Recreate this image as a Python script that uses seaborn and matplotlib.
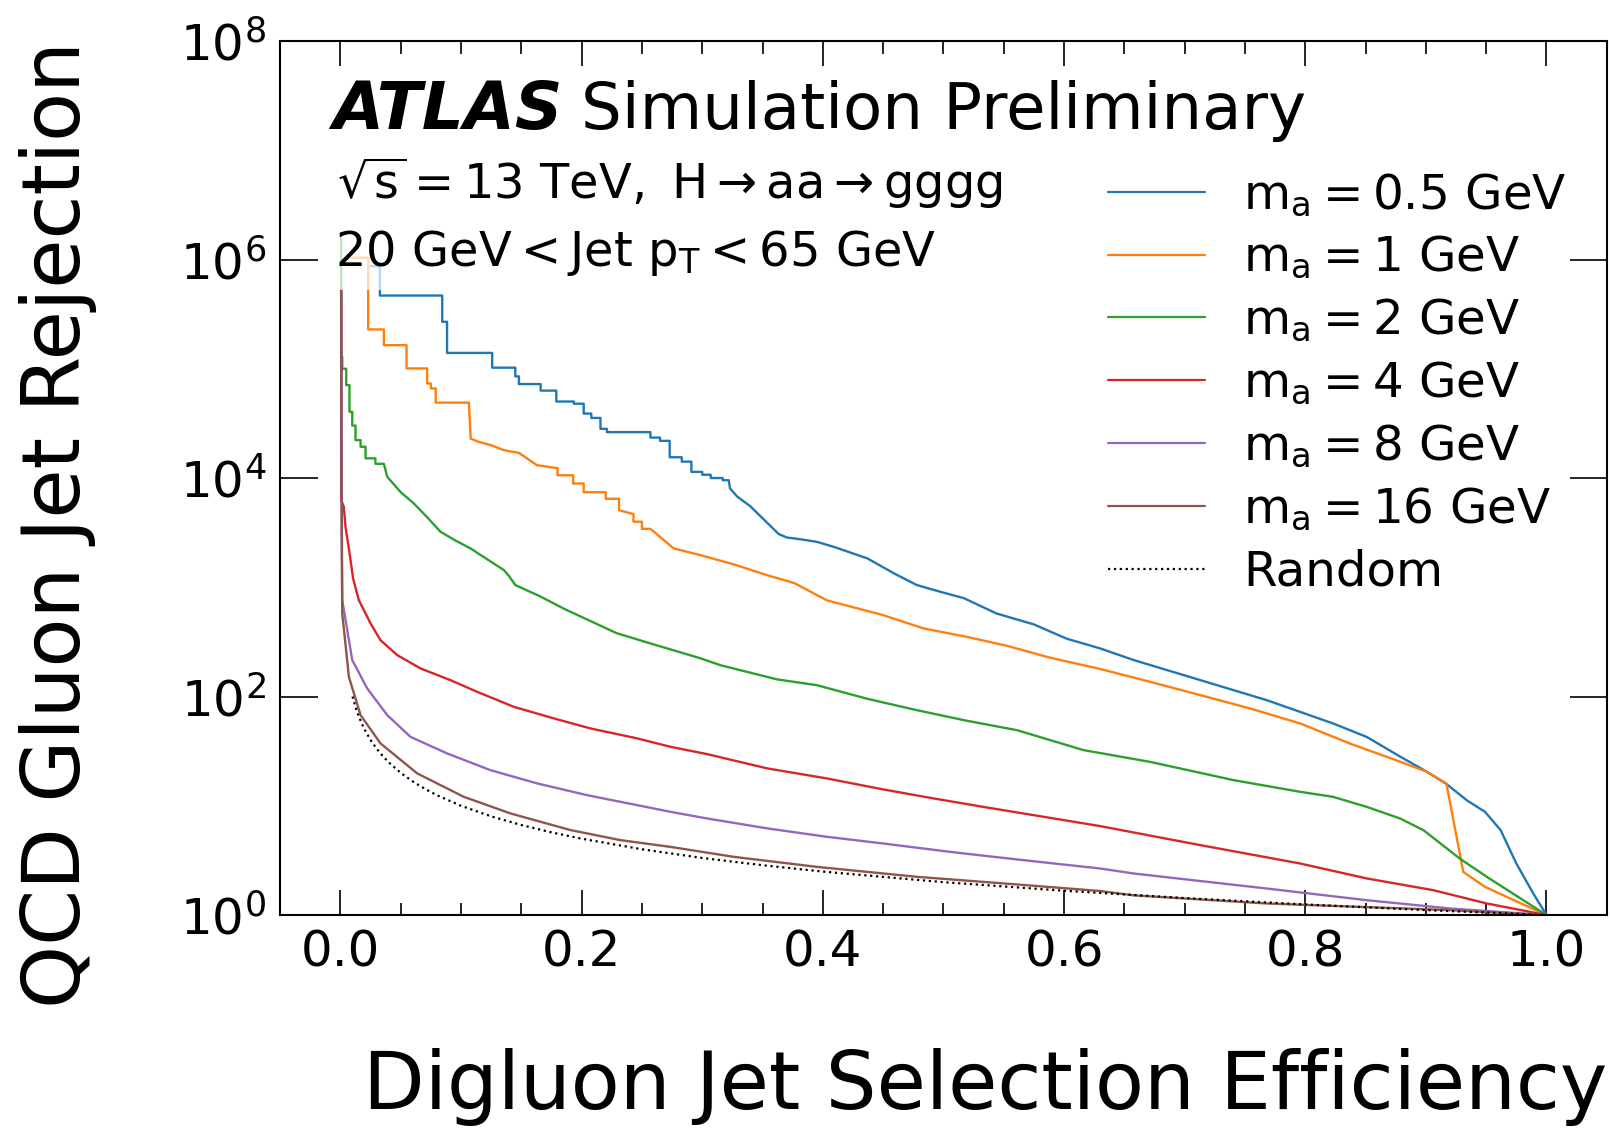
import matplotlib
matplotlib.use("Agg")
import matplotlib.pyplot as plt
import seaborn as sns
import numpy as np
import pandas as pd

# ---------------- data ----------------
# efficiency values and log10(rejection) values per signal mass
eff_05 = [0.025, 0.0327, 0.0327, 0.0844, 0.0844, 0.0884, 0.0884, 0.1258, 0.1258, 0.145, 0.145, 0.148,
          0.148, 0.166, 0.166, 0.179, 0.179, 0.1935, 0.1935, 0.2017, 0.2017, 0.208, 0.208, 0.2156,
          0.2156, 0.221, 0.221, 0.257, 0.257, 0.265, 0.265, 0.273, 0.273, 0.283, 0.283, 0.291, 0.291,
          0.300, 0.300, 0.307, 0.307, 0.317, 0.317, 0.322, 0.323, 0.329, 0.340, 0.3634, 0.370, 0.381,
          0.395, 0.409, 0.437, 0.459, 0.478, 0.497, 0.517, 0.544, 0.575, 0.602, 0.630, 0.658, 0.713,
          0.768, 0.823, 0.851, 0.879, 0.901, 0.917, 0.934, 0.949, 0.962, 0.975, 0.989, 1.0]
lrej_05 = [5.94, 5.94, 5.67, 5.67, 5.43, 5.43, 5.145, 5.145, 5.01, 5.01, 4.93, 4.93,
           4.86, 4.86, 4.80, 4.80, 4.70, 4.70, 4.68, 4.68, 4.59, 4.59, 4.55, 4.55,
           4.45, 4.45, 4.42, 4.42, 4.37, 4.37, 4.34, 4.34, 4.19, 4.19, 4.15, 4.15, 4.056,
           4.056, 4.03, 4.03, 4.00, 4.00, 3.98, 3.98, 3.905, 3.83, 3.74, 3.487, 3.456, 3.44,
           3.416, 3.37, 3.264, 3.127, 3.02, 2.96, 2.90, 2.76, 2.66, 2.53, 2.44, 2.333, 2.15,
           1.967, 1.754, 1.63, 1.448, 1.31, 1.20, 1.05, 0.945, 0.777, 0.472, 0.198, 0.0]

eff_1 = [0.0092, 0.023, 0.023, 0.036, 0.036, 0.0548, 0.0548, 0.0719, 0.0719, 0.075, 0.075, 0.079,
         0.079, 0.1065, 0.108, 0.115, 0.125, 0.1355, 0.148, 0.163, 0.180, 0.180, 0.193, 0.193,
         0.2017, 0.2017, 0.220, 0.220, 0.231, 0.231, 0.243, 0.243, 0.250, 0.250, 0.257, 0.2763,
         0.2985, 0.326, 0.354, 0.376, 0.4035, 0.450, 0.4836, 0.5195, 0.5527, 0.5886, 0.630, 0.6713,
         0.713, 0.7545, 0.7957, 0.837, 0.879, 0.901, 0.917, 0.931, 0.949, 0.973, 1.0]
lrej_1 = [6.016, 6.016, 5.36, 5.36, 5.216, 5.216, 5.003, 5.003, 4.865, 4.865, 4.82, 4.82,
          4.69, 4.69, 4.36, 4.33, 4.30, 4.255, 4.23, 4.117, 4.09, 4.025, 4.025, 3.95,
          3.95, 3.87, 3.87, 3.81, 3.81, 3.705, 3.67, 3.60, 3.60, 3.535, 3.535, 3.356,
          3.294, 3.21, 3.11, 3.04, 2.88, 2.745, 2.623, 2.546, 2.464, 2.355, 2.252, 2.135,
          2.013, 1.89, 1.754, 1.57, 1.402, 1.31, 1.205, 0.395, 0.258, 0.136, 0.0]

eff_2 = [0.0006, 0.0006, 0.0015, 0.0015, 0.0048, 0.0048, 0.0075, 0.0075, 0.0098, 0.0098, 0.0125,
         0.0125, 0.0167, 0.0167, 0.0208, 0.0208, 0.029, 0.029, 0.036, 0.0388, 0.050, 0.0609, 0.072,
         0.083, 0.095, 0.1078, 0.1355, 0.140, 0.145, 0.165, 0.186, 0.229, 0.257, 0.2985, 0.315,
         0.362, 0.395, 0.4366, 0.478, 0.5195, 0.561, 0.616, 0.6713, 0.7405, 0.7957, 0.823, 0.851,
         0.8786, 0.898, 0.928, 0.9505, 1.0]
lrej_2 = [6.24, 5.11, 5.11, 5.0, 5.0, 4.85, 4.85, 4.606, 4.606, 4.48, 4.48,
          4.347, 4.347, 4.286, 4.286, 4.18, 4.18, 4.13, 4.13, 4.011, 3.87, 3.767, 3.64,
          3.508, 3.43, 3.356, 3.157, 3.10, 3.02, 2.92, 2.80, 2.58, 2.486, 2.35, 2.287,
          2.157, 2.104, 1.98, 1.875, 1.778, 1.692, 1.51, 1.402, 1.235, 1.128, 1.082, 0.99,
          0.884, 0.777, 0.518, 0.35, 0.0]

eff_4 = [0.0006, 0.0006, 0.0028, 0.0042, 0.007, 0.0105, 0.01525, 0.025, 0.0332, 0.0471, 0.0664,
         0.0912, 0.1134, 0.1437, 0.1769, 0.2073, 0.246, 0.2736, 0.304, 0.354, 0.4035, 0.450, 0.492,
         0.533, 0.575, 0.630, 0.713, 0.7957, 0.851, 0.906, 0.9505, 1.0]
lrej_4 = [5.74, 3.80, 3.736, 3.553, 3.355, 3.08, 2.882, 2.669, 2.516, 2.379, 2.257,
          2.150, 2.043, 1.906, 1.80, 1.708, 1.617, 1.540, 1.473, 1.342, 1.25, 1.15, 1.067,
          0.99, 0.914, 0.814, 0.64, 0.472, 0.335, 0.228, 0.106, 0.0]

eff_8 = [0.0006, 0.0012, 0.0015, 0.0098, 0.0222, 0.0388, 0.0581, 0.0885, 0.1244, 0.1631, 0.2046,
         0.246, 0.2736, 0.304, 0.354, 0.4035, 0.450, 0.5057, 0.561, 0.630, 0.658, 0.768, 0.851,
         0.920, 1.0]
lrej_8 = [5.74, 3.5, 2.882, 2.333, 2.074, 1.830, 1.631, 1.479, 1.326, 1.205, 1.097,
          1.006, 0.945, 0.884, 0.793, 0.716, 0.655, 0.578, 0.509, 0.426, 0.38, 0.243, 0.136,
          0.06, 0.0]

eff_16 = [0.0006, 0.0010, 0.0015, 0.007, 0.0167, 0.0332, 0.0637, 0.1023, 0.141, 0.1907, 0.232,
          0.2736, 0.326, 0.395, 0.478, 0.561, 0.630, 0.658, 0.768, 0.920, 1.0]
lrej_16 = [5.74, 3.5, 2.761, 2.18, 1.830, 1.571, 1.296, 1.082, 0.930, 0.778, 0.686,
           0.624, 0.533, 0.441, 0.35, 0.28, 0.22, 0.18, 0.106, 0.045, 0.0]

eff_random = [0.01, 0.0125, 0.015, 0.0175, 0.02, 0.025, 0.03, 0.035, 0.04, 0.05, 0.06, 0.07, 0.08,
              0.1, 0.125, 0.15, 0.175, 0.2, 0.25, 0.3, 0.35, 0.4, 0.5, 0.6, 0.7, 0.8, 0.9, 1.0]
rej_random = [100, 80, 66.7, 57.1, 50, 40, 33.3, 28.6, 25, 20, 16.7, 14.3, 12.5,
              10, 8, 6.67, 5.71, 5, 4, 3.33, 2.86, 2.5, 2.0, 1.67, 1.43, 1.25, 1.11, 1.0]

labels = [r"$m_{a} = 0.5\ GeV$", r"$m_{a} = 1\ GeV$", r"$m_{a} = 2\ GeV$",
          r"$m_{a} = 4\ GeV$", r"$m_{a} = 8\ GeV$", r"$m_{a} = 16\ GeV$"]
series = [(eff_05, lrej_05), (eff_1, lrej_1), (eff_2, lrej_2),
          (eff_4, lrej_4), (eff_8, lrej_8), (eff_16, lrej_16)]
xticks = [0.0, 0.2, 0.4, 0.6, 0.8, 1.0]
yticks = [1e0, 1e2, 1e4, 1e6, 1e8]

# ---------------- style ----------------
sns.set_style("ticks")
plt.rcParams["font.family"] = ["DejaVu Sans"]
plt.rcParams["mathtext.fontset"] = "dejavusans"
plt.rcParams["mathtext.default"] = "regular"
for k in ["text.color", "axes.labelcolor", "xtick.color", "ytick.color", "axes.edgecolor"]:
    plt.rcParams[k] = "black"

colors = sns.color_palette("tab10", 6)

fig = plt.figure(figsize=(16.1, 11.29), dpi=100)
ax = fig.add_axes([0.174, 0.1895, 0.824, 0.7742])

for (e, lr), lab, c in zip(series, labels, colors):
    df = pd.DataFrame({"eff": e, "rej": np.power(10.0, lr)})
    sns.lineplot(data=df, x="eff", y="rej", ax=ax, color=c, lw=1.7,
                 estimator=None, sort=False, label=lab)

dfr = pd.DataFrame({"eff": eff_random, "rej": rej_random})
sns.lineplot(data=dfr, x="eff", y="rej", ax=ax, color="black", lw=1.6,
             linestyle=":", estimator=None, sort=False, label="Random")

ax.set_yscale("log")
ax.set_xlim(-0.05, 1.05)
ax.set_ylim(1, 1e8)
ax.set_xticks(xticks)
ax.set_xticks(np.arange(0, 1.0001, 0.05), minor=True)
ax.set_yticks(yticks)
ax.yaxis.set_minor_locator(matplotlib.ticker.NullLocator())
ax.xaxis.set_major_formatter(matplotlib.ticker.FormatStrFormatter("%.1f"))

ax.tick_params(which="both", direction="in", top=True, right=True, width=1.2,
               labelsize=36, colors="black")
ax.tick_params(axis="x", which="major", length=18, pad=10)
ax.tick_params(axis="x", which="minor", length=9)
ax.tick_params(axis="y", which="major", length=27, pad=10)
for s in ax.spines.values():
    s.set_linewidth(1.5)
    s.set_color("black")

ax.set_xlabel("Digluon Jet Selection Efficiency", fontsize=57.7, loc="right", labelpad=51)
ax.set_ylabel("QCD Gluon Jet Rejection", fontsize=57.7, loc="top", labelpad=60)

# ATLAS label
ax.text(0.039, 0.899, "ATLAS", transform=ax.transAxes, fontsize=47.5,
        fontweight="bold", fontstyle="italic", va="baseline", ha="left")
ax.text(0.2268, 0.899, "Simulation Preliminary", transform=ax.transAxes, fontsize=46.3,
        va="baseline", ha="left")
ax.text(0.043, 0.819, r"$\sqrt{s} = 13\ TeV,\ H \rightarrow aa \rightarrow gggg$",
        transform=ax.transAxes, fontsize=34.5, va="baseline", ha="left")
ax.text(0.041, 0.743, r"$20\ GeV < Jet\ p_{T} < 65\ GeV$",
        transform=ax.transAxes, fontsize=34.5, va="baseline", ha="left", zorder=5,
        bbox=dict(facecolor="white", alpha=0.7, edgecolor="none", pad=9))

leg = ax.legend(loc="upper left", bbox_to_anchor=(0.624, 0.8505), frameon=False,
                fontsize=34.8, handlelength=2.0, handletextpad=0.8, labelspacing=0.325,
                borderaxespad=0, borderpad=0)
for h in leg.get_lines():
    h.set_linewidth(1.6)

fig.savefig("out.png", dpi=100)
